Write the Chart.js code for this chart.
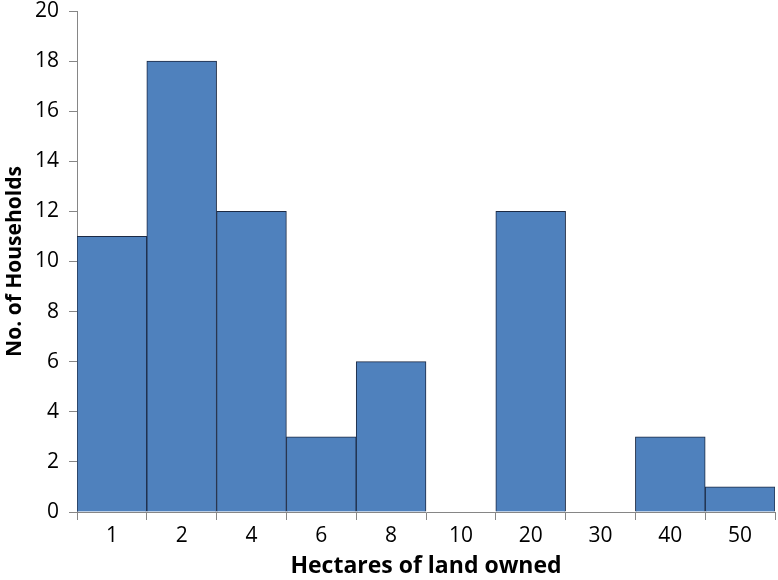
<!DOCTYPE html>
<html>
<head>
<meta charset="utf-8">
<script src="https://cdn.jsdelivr.net/npm/chart.js@4/dist/chart.umd.min.js"></script>
<style>
  html, body { margin: 0; padding: 0; background: #fff; }
  #wrap { width: 778px; height: 580px; }
</style>
</head>
<body>
<div id="wrap"><canvas id="myChart" width="778" height="580"></canvas></div>
<script>
// land size categories (hectares) and household counts
const hectares = ['1', '2', '4', '6', '8', '10', '20', '30', '40', '50'];
const households = [11, 18, 12, 3, 6, 0, 12, 0, 3, 1];
const yTicks = [0, 2, 4, 6, 8, 10, 12, 14, 16, 18, 20];

const axisGray = '#868686';
const fontFam = '"Open Sans", "Liberation Sans", sans-serif';

const data = {
    labels: hectares,
    datasets: [{
        label: 'No. of Households',
        data: households,
        backgroundColor: '#4F81BD',
        borderColor: '#1c2a44',
        borderWidth: 1,
        categoryPercentage: 1.0,
        barPercentage: 1.0
    }]
};

const config = {
    type: 'bar',
    data,
    options: {
        responsive: false,
        animation: false,
        layout: { padding: { top: 11, right: 3, left: 0, bottom: 0 } },
        plugins: {
            legend: { display: false },
            tooltip: { enabled: false }
        },
        scales: {
            x: {
                afterFit: (axis) => { axis.height = 68; },
                border: { color: axisGray, width: 1 },
                grid: { drawOnChartArea: false, color: axisGray, tickLength: 8, offset: true },
                ticks: { color: '#000', font: { family: fontFam, size: 21 }, padding: 3 },
                title: {
                    display: true,
                    text: 'Hectares of land owned',
                    color: '#000',
                    font: { family: fontFam, size: 23, weight: 'bold' },
                    padding: { top: 0, bottom: 0 }
                }
            },
            y: {
                min: 0,
                max: 20,
                afterFit: (axis) => {
                    axis.width = 77;
                    axis.paddingTop = 0;
                    axis.paddingBottom = 0;
                },
                afterBuildTicks: (axis) => { axis.ticks = yTicks.map(v => ({ value: v })); },
                border: { color: axisGray, width: 1 },
                grid: { drawOnChartArea: false, color: axisGray, tickLength: 8 },
                ticks: { color: '#000', font: { family: fontFam, size: 21 }, padding: 10 },
                title: {
                    display: true,
                    text: 'No. of Households',
                    color: '#000',
                    font: { family: fontFam, size: 21, weight: 'bold' },
                    padding: { top: 2, bottom: 0 }
                }
            }
        }
    }
};

const myChart = new Chart(document.getElementById('myChart'), config);
</script>
</body>
</html>
